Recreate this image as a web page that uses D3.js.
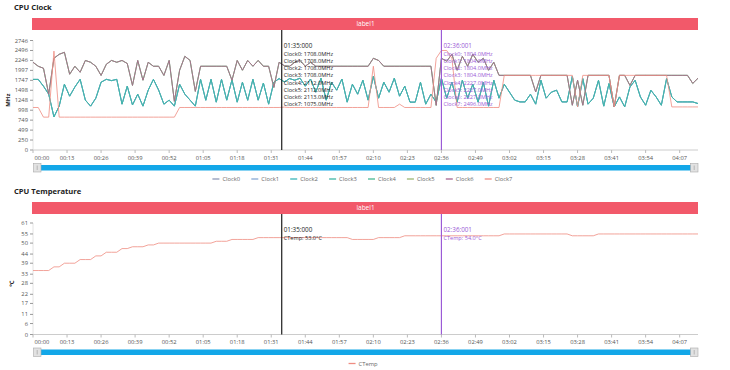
<!DOCTYPE html>
<html>
<head>
  <meta charset="utf-8" />
  <title>CPU Clock / CPU Temperature</title>
  <script type="text/javascript" src="https://cdnjs.cloudflare.com/ajax/libs/d3/7.8.5/d3.min.js"></script>
  <style>
    body{
      margin: 0;
      background: white;
    }
    text{
      font-family: "Open Sans", "Noto Sans", sans-serif;
    }
  </style>
</head>
<body>
  <script type="text/javascript">
    // - - - - - DATA - - - - - //
    //one sample every 2 seconds, 00:00 -> 04:14
    var sampleStep = 2;

    //Clock0 - Clock3 (same core cluster)
    var clockGroupA = [
      1770,1770,1600,1400,830,1100,1650,1350,1580,1772,
      1250,1100,1300,1700,1772,1740,1772,1150,1600,1130,
      1400,1100,1500,1772,1500,1150,1250,1100,1650,1400,
      1250,1100,1772,1248,1772,1200,1772,1250,1760,1200,
      1700,1248,1772,1250,1680,1150,1700,1790,1708,1790,
      1750,1800,1600,1780,1450,1800,1250,1700,1500,1780,
      1200,1650,1400,1750,1250,1850,1300,1700,1450,1800,
      1350,1600,1200,1200,1700,1150,1400,1200,1800,1300,
      1700,1200,1750,1300,1650,1200,1700,1100,1750,1300,
      1650,1450,1250,1206,1206,1400,1150,1748,1300,1450,
      1500,1206,1206,1850,1081,1789,1150,1300,1748,1100,
      1665,1081,1331,1081,1581,1748,1331,1123,1498,1331,
      1123,1789,1331,1206,1206,1206,1206,1165
    ];
    //Clock4 - Clock6
    var clockGroupB = [
      2200,2100,2050,1400,2300,2400,2450,1900,2100,1950,
      2246,2200,2100,1870,2150,2246,2200,2246,2170,1620,
      2246,1750,2200,2100,2100,1870,2246,1220,2000,2350,
      2246,1470,2100,2100,2100,2100,2100,2100,1750,2246,
      2000,2246,2100,2246,2100,2100,1570,2200,2112,2100,
      2200,2246,2100,2200,2100,2100,2100,2100,2100,2100,
      2100,2100,2100,2100,2100,2300,2246,2100,2100,2100,
      2100,2100,2100,2100,2100,2100,2100,1120,2300,2227,
      2400,2000,2350,2100,2400,2200,2300,2000,2200,1872,
      1872,1872,1872,1872,1872,1872,1456,1872,1872,1872,
      1872,1872,1872,1123,1750,1123,1872,1872,1872,1872,
      1872,1080,1872,1872,1620,1872,1872,1872,1872,1872,
      1872,1872,1872,1872,1872,1872,1670,1800
    ];
    //Clock7
    var clock7 = [
      1066,1066,824,824,2480,824,824,824,824,824,
      824,824,824,824,824,824,824,824,824,824,
      824,824,824,824,824,824,824,824,1066,1066,
      1066,1066,1066,1066,1066,1066,1066,1066,1066,1066,
      1066,1066,1066,1066,1066,1066,1066,1066,1075,1066,
      1066,1066,1066,1066,1066,1066,1066,1066,1066,1066,
      1066,1066,1066,1066,1066,2100,1066,1066,1066,1066,
      1150,1066,1066,1066,1066,1066,1066,2300,2496,2496,
      2300,1066,1066,1066,1066,1066,1066,1066,1066,1066,
      1872,1872,1872,1872,1872,1872,1872,1872,1872,1872,
      1872,1872,1872,1872,1080,1872,1872,1872,1872,1872,
      1872,1080,1872,1872,1872,1872,1872,1872,1872,1872,
      1872,1872,1080,1080,1080,1080,1080,1080
    ];
    //CPU temperature
    var cTemp = [
      35,35,35,35,37,37,39,39,39,41,
      41,41,43,43,45,45,45,47,47,48,
      48,48,49,49,50,50,50,50,50,50,
      50,50,50,50,50,51,51,51,52,52,
      52,52,52,53,53,53,53,53,53,53,
      53,53,53,53,53,53,53,53,53,53,
      53,52,52,52,52,52,53,53,53,53,
      53,54,54,54,54,54,54,54,54,54,
      54,54,54,54,54,54,54,54,54,54,
      55,55,55,55,55,55,55,55,55,55,
      55,55,55,54,54,54,54,54,55,55,
      55,55,55,55,55,55,55,55,55,55,
      55,55,55,55,55,55,55,55
    ];

    var clockNames = ["Clock0","Clock1","Clock2","Clock3","Clock4","Clock5","Clock6","Clock7"];
    var clockValues = [clockGroupA, clockGroupA, clockGroupA, clockGroupA, clockGroupB, clockGroupB, clockGroupB, clock7];
    var clockColors = ["#8e9ab8","#88a9d4","#3ab5b8","#40b6a6","#47b892","#9bb672","#a8638f","#ef8d82"];

    var clockTicks = [0,250,499,749,998,1248,1498,1747,1997,2246,2496,2746];
    var tempTicks = [0,6,11,17,22,28,33,39,44,50,55,61];
    var timeTicks = ["00:00","00:13","00:26","00:39","00:52","01:05","01:18","01:31","01:44","01:57",
                     "02:10","02:23","02:36","02:49","03:02","03:15","03:28","03:41","03:54","04:07"];

    //markers placed on the charts
    var markerTimes = ["01:35","02:36"];
    var markerLabels = ["01:35:000","02:36:001"];
    var markerColors = ["#1e1e1e","#9b5bd6"];
    var markerClock = [
      [1708.0,1708.0,1708.0,1708.0,2112.0,2112.0,2113.0,1075.0],
      [1804.0,1804.0,1804.0,1804.0,2227.0,2227.0,2227.0,2496.0]
    ];
    var markerTemp = [53.0, 54.0];

    // - - - - - CONSTANTS - - - - - //
    var w = 730;
    var h = 370;
    var plotLeft = 33;
    var plotRight = 698;

    var toSec = function(s){
      var p = s.split(":");
      return (+p[0]) * 60 + (+p[1]);
    };

    var svg = d3.select("body")
      .append("svg")
      .attr("width", w)
      .attr("height", h);

    var xScale = d3.scaleLinear()
      .domain([0, (clock7.length - 1) * sampleStep])
      .range([plotLeft, plotRight]);

    // - - - - - PANEL - - - - - //
    var drawPanel = function(p){
      var g = svg.append("g");
      var barTop = p.base + 18;
      var barBottom = barTop + 12;

      var yScale = d3.scaleLinear()
        .domain([0, p.ticks[p.ticks.length - 1]])
        .range([p.plotBottom, p.plotTop]);

      //title
      g.append("text")
        .text(p.title)
        .attr("x", 14)
        .attr("y", p.base + 10)
        .attr("font-size", "7.6px")
        .attr("font-weight", "bold")
        .attr("fill", "#222");

      //label bar
      g.append("rect")
        .attr("x", plotLeft - 1)
        .attr("y", barTop)
        .attr("width", plotRight - plotLeft + 1)
        .attr("height", 12)
        .attr("fill", "#f2596a");
      g.append("text")
        .text("label1")
        .attr("x", (plotLeft + plotRight) / 2)
        .attr("y", barTop + 8.3)
        .attr("text-anchor", "middle")
        .attr("font-size", "6.5px")
        .attr("fill", "white");

      //y axis
      var yAxis = g.append("g");
      yAxis.append("line")
        .attr("x1", plotLeft).attr("x2", plotLeft)
        .attr("y1", p.plotTop).attr("y2", p.plotBottom)
        .attr("stroke", "#e4e4e4");
      var yt = yAxis.selectAll(".ytick")
        .data(p.ticks)
        .enter()
        .append("g")
        .attr("transform", function(d){ return "translate(0," + yScale(d) + ")"; });
      yt.append("line")
        .attr("x1", plotLeft - 3).attr("x2", plotLeft)
        .attr("stroke", "#999");
      yt.append("text")
        .text(function(d){ return d; })
        .attr("x", plotLeft - 5)
        .attr("dy", "2px")
        .attr("text-anchor", "end")
        .attr("font-size", "5.8px")
        .attr("fill", "#555");

      //y title
      g.append("text")
        .text(p.yTitle)
        .attr("transform", "translate(" + p.yTitleX + "," + ((p.plotTop + p.plotBottom) / 2 + 5) + ") rotate(-90)")
        .attr("text-anchor", "middle")
        .attr("font-size", "6px")
        .attr("font-weight", "bold")
        .attr("fill", "#222");

      //x axis
      var xAxis = g.append("g");
      xAxis.append("line")
        .attr("x1", plotLeft).attr("x2", plotRight)
        .attr("y1", p.plotBottom).attr("y2", p.plotBottom)
        .attr("stroke", "#ccc");
      var xt = xAxis.selectAll(".xtick")
        .data(timeTicks)
        .enter()
        .append("g")
        .attr("transform", function(d){ return "translate(" + xScale(toSec(d)) + "," + p.plotBottom + ")"; });
      xt.append("line")
        .attr("y1", 0).attr("y2", 3)
        .attr("stroke", "#bbb");
      xt.append("text")
        .text(function(d){ return d; })
        .attr("x", function(d,i){ return i == 0 ? 1.5 : 0; })
        .attr("y", 9.5)
        .attr("text-anchor", function(d,i){ return i == 0 ? "start" : "middle"; })
        .attr("font-size", "5.8px")
        .attr("fill", "#555");

      //series lines
      var line = d3.line()
        .x(function(d,i){ return xScale(i * sampleStep); })
        .y(function(d){ return yScale(d); });
      g.append("g")
        .selectAll("path")
        .data(p.series)
        .enter()
        .append("path")
        .attr("d", function(d){ return line(d.values); })
        .attr("fill", "none")
        .attr("stroke", function(d){ return d.color; })
        .attr("stroke-opacity", 0.9)
        .attr("stroke-width", 0.9);

      //markers
      markerTimes.forEach(function(t, m){
        var mx = xScale(toSec(t));
        g.append("line")
          .attr("x1", mx).attr("x2", mx)
          .attr("y1", barBottom).attr("y2", p.plotBottom)
          .attr("stroke", markerColors[m])
          .attr("stroke-width", 1.2);
        g.append("text")
          .text(markerLabels[m])
          .attr("x", mx + 2)
          .attr("y", barBottom + 17.5)
          .attr("font-size", "6.3px")
          .attr("fill", markerColors[m]);
        p.markerText(m).forEach(function(s, k){
          g.append("text")
            .text(s)
            .attr("x", mx + 2)
            .attr("y", barBottom + 26 + k * 7.14)
            .attr("font-size", "5.6px")
            .attr("fill", markerColors[m]);
        });
      });

      //slider
      var sy = p.plotBottom + 15;
      g.append("rect")
        .attr("x", plotLeft + 8).attr("y", sy)
        .attr("width", plotRight - plotLeft - 15).attr("height", 5.5)
        .attr("fill", "#13a7e8");
      [plotLeft, plotRight - 8].forEach(function(hx){
        g.append("rect")
          .attr("x", hx + 0.5).attr("y", sy - 1.5)
          .attr("width", 7.5).attr("height", 8.5)
          .attr("fill", "#e2e2e2")
          .attr("stroke", "#aaa")
          .attr("stroke-width", 0.6);
        g.append("line")
          .attr("x1", hx + 4.2).attr("x2", hx + 4.2)
          .attr("y1", sy + 0.5).attr("y2", sy + 5)
          .attr("stroke", "#999")
          .attr("stroke-width", 0.6);
      });

      //legend
      var itemW = 38.9;
      var lx = 365 - p.series.length * itemW / 2 + 3;
      var ly = p.plotBottom + 29;
      var leg = g.selectAll(".legend")
        .data(p.series)
        .enter()
        .append("g")
        .attr("transform", function(d,i){ return "translate(" + (lx + i * itemW) + "," + ly + ")"; });
      leg.append("line")
        .attr("x1", 0).attr("x2", 7)
        .attr("stroke", function(d){ return d.color; })
        .attr("stroke-width", 1.3);
      leg.append("text")
        .text(function(d){ return d.name; })
        .attr("x", 10)
        .attr("dy", "2px")
        .attr("font-size", "5.8px")
        .attr("fill", "#666");
    };

    // - - - - - CPU CLOCK - - - - - //
    drawPanel({
      title: "CPU Clock",
      base: 0,
      plotTop: 40.5,
      plotBottom: 150,
      ticks: clockTicks,
      yTitle: "MHz",
      yTitleX: 10,
      series: clockNames.map(function(n,i){
        return {name: n, values: clockValues[i], color: clockColors[i]};
      }),
      markerText: function(m){
        return clockNames.map(function(n,i){
          return n + ": " + markerClock[m][i].toFixed(1) + "MHz";
        });
      }
    });

    // - - - - - CPU TEMPERATURE - - - - - //
    drawPanel({
      title: "CPU Temperature",
      base: 184,
      plotTop: 223,
      plotBottom: 334.5,
      ticks: tempTicks,
      yTitle: "\u2103",
      yTitleX: 14,
      series: [{name: "CTemp", values: cTemp, color: "#ef8d82"}],
      markerText: function(m){
        return ["CTemp: " + markerTemp[m].toFixed(1) + "\u00b0C"];
      }
    });
  </script>
</body>
</html>
